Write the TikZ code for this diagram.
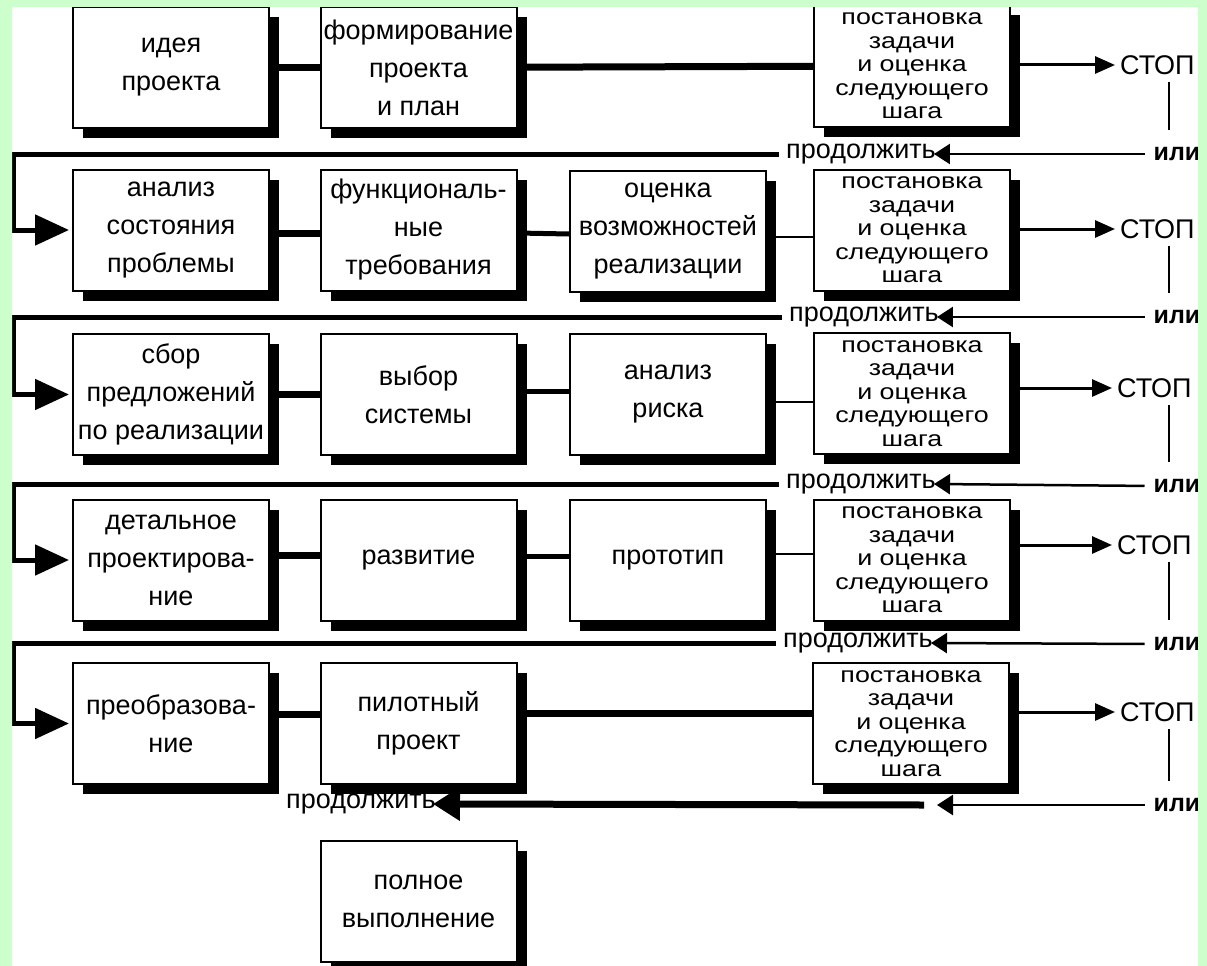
\documentclass[tikz,border=0pt]{standalone}
\usepackage{fontspec}
\setmainfont{Liberation Sans}
\newfontfamily\widefont[FakeStretch=1.22]{Liberation Sans}
\usetikzlibrary{arrows.meta, shadows, positioning}
\definecolor{frame}{RGB}{204,255,204}
\tikzset{
    box/.style={draw, line width=2pt, fill=white, minimum width=196pt, minimum height=121pt,
        align=center, inner sep=0pt, font=\fontsize{27}{38}\selectfont,
        drop shadow={shadow xshift=10pt, shadow yshift=-10pt, opacity=1, fill=black}}, % box with a black shadow
    task/.style={box, font=\widefont\fontsize{22}{23.5}\selectfont}, % the "next step" boxes
    word/.style={inner sep=0pt, font=\fontsize{27}{30}\selectfont},
    orword/.style={word, font=\fontsize{25}{30}\selectfont\bfseries},
    heavy/.style={line width=7pt},
    medium/.style={line width=5pt},
    slim/.style={line width=2pt},
    back/.style={line width=5pt, -{Triangle[length=34pt,width=30pt]}}, % feedback to the next row
    stoparrow/.style={line width=3pt, -{Triangle[length=20pt,width=17pt]}},
    contarrow/.style={line width=2.5pt, -{Triangle[length=16pt,width=20pt]}},
}

\begin{document}
\begin{tikzpicture}[x=1pt, y=-1pt]
    \useasboundingbox (0,0) rectangle (1207,966);
    \fill[white] (0,0) rectangle (1207,966);
    \coordinate (vl) at (13,0);   % left return line
    \coordinate (vx) at (1169,0); % stop -- or lines

    % row 1
    \node[box] (idea) at (171,67.5) {идея\\проекта};
    \node[box] (plan) at (418.5,67.5) {формирование\\проекта\\и план};
    \node[task] (task1) at (912,66) {постановка\\задачи\\и оценка\\следующего\\шага};
    % row 2
    \node[box] (state) at (171,230) {анализ\\состояния\\проблемы};
    \node[box] (func) at (418.5,230) {функциональ-\\ные\\требования};
    \node[box] (eval) at (668,231) {оценка\\возможностей\\реализации};
    \node[task] (task2) at (912,230) {постановка\\задачи\\и оценка\\следующего\\шага};
    % row 3
    \node[box] (collect) at (171,394.5) {сбор\\предложений\\по реализации};
    \node[box] (choice) at (418.5,394.5) {выбор\\системы};
    \node[box] (risk) at (668,394.5) {анализ\\риска};
    \node[task] (task3) at (912,393.5) {постановка\\задачи\\и оценка\\следующего\\шага};
    % row 4
    \node[box] (detail) at (171,560) {детальное\\проектирова-\\ние};
    \node[box] (devel) at (418.5,560) {развитие};
    \node[box] (proto) at (668,560) {прототип};
    \node[task] (task4) at (912,560) {постановка\\задачи\\и оценка\\следующего\\шага};
    % row 5
    \node[box] (conv) at (171,723.5) {преобразова-\\ние};
    \node[box] (pilot) at (418.5,723.5) {пилотный\\проект};
    \node[task] (task5) at (911,723.5) {постановка\\задачи\\и оценка\\следующего\\шага};
    % last step
    \node[box] (full) at (418.5,901) {полное\\выполнение};

    % stop / or / continue
    \node[word, anchor=west] (stop1) at (1120,65) {СТОП};
    \node[word, anchor=west] (stop2) at (1120,229) {СТОП};
    \node[word, anchor=west] (stop3) at (1117,388) {СТОП};
    \node[word, anchor=west] (stop4) at (1117,545) {СТОП};
    \node[word, anchor=west] (stop5) at (1120,712) {СТОП};
    \node[orword] (ili1) at (1177,154) {или};
    \node[orword] (ili2) at (1177,317) {или};
    \node[orword] (ili3) at (1177,486) {или};
    \node[orword] (ili4) at (1177,644) {или};
    \node[orword] (ili5) at (1177,805) {или};
    \node[word] (go1) at (861,154) {продолжить};
    \node[word] (go2) at (864,317) {продолжить};
    \node[word] (go3) at (861,484) {продолжить};
    \node[word] (go4) at (858,643) {продолжить};
    \node[word] (go5) at (361,804) {продолжить};
    \coordinate (cut5) at (924,805);
    \coordinate (gap5) at (937,805);

    % links inside the rows
    \draw[heavy] (idea) -- (plan);
    \draw[heavy] (plan) -- (task1);
    \draw[heavy] ([yshift=-3pt]state.east) -- ([yshift=-3pt]func.west);
    \draw[medium] ([yshift=-3pt]func.east) -- ([yshift=-3pt]eval.west);
    \draw[slim] ([yshift=-6pt]eval.east) -- ([yshift=-7pt]task2.west);
    \draw[heavy] (collect) -- (choice);
    \draw[medium] ([yshift=3pt]choice.east) -- ([yshift=3pt]risk.west);
    \draw[slim] ([yshift=-7pt]risk.east) -- ([yshift=-8pt]task3.west);
    \draw[heavy] ([yshift=5pt]detail.east) -- ([yshift=5pt]devel.west);
    \draw[medium] ([yshift=4pt]devel.east) -- ([yshift=4pt]proto.west);
    \draw[slim] ([yshift=6pt]proto.east) -- ([yshift=6pt]task4.west);
    \draw[heavy] ([yshift=9pt]conv.east) -- ([yshift=9pt]pilot.west);
    \draw[heavy] ([yshift=10pt]pilot.east) -- ([yshift=10pt]task5.west);

    % stop arrows and the lines down to "или"
    \foreach \n in {1,...,5} {
        \draw[stoparrow, shorten >=5pt] (stop\n.west -| task\n.east) -- (stop\n.west);
        \draw[slim, shorten <=7pt, shorten >=17pt] (stop\n.south -| vx) -- (ili\n.north -| vx);
    }
    \foreach \n in {1,...,4} {
        \draw[contarrow, shorten <=9pt, shorten >=-2pt] (ili\n.west) -- (go\n.east);
    }

    % back to the start of the next row
    \draw[back, shorten <=7pt, shorten >=3pt] (go1.west) -- (go1.west -| vl) |- (state.west);
    \draw[back, shorten <=7pt, shorten >=3pt] (go2.west) -- (go2.west -| vl) |- (collect.west);
    \draw[back, shorten <=7pt, shorten >=3pt] (go3.west) -- (go3.west -| vl) |- (detail.west);
    \draw[back, shorten <=7pt, shorten >=3pt] (go4.west) -- (go4.west -| vl) |- (conv.west);

    % last row
    \draw[contarrow, shorten <=9pt] (ili5.west) -- (gap5);
    \draw[heavy, -{Triangle[length=27pt,width=32pt]}, shorten >=-3pt] (cut5) -- (go5.east);

    % green frame
    \fill[frame, even odd rule] (0,0) rectangle (1207,966) (12,7) rectangle (1198,980);
\end{tikzpicture}
\end{document}
